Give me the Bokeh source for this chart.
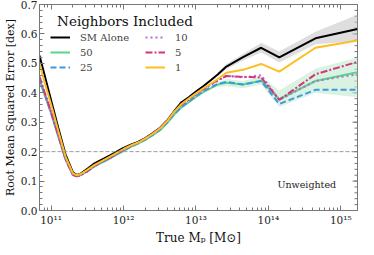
import numpy as np
from bokeh.plotting import figure
from bokeh.models import (FixedTicker, LinearAxis, Range1d, Span, Label, Legend,
                          LegendItem, PrintfTickFormatter, CustomLabelingPolicy)
from bokeh.embed import file_html
from bokeh.resources import INLINE

# log10 of true halo mass
log_mass = [10.84, 10.9, 11.0, 11.1, 11.2, 11.3, 11.35, 11.4, 11.5, 11.6, 11.7, 11.8,
            11.9, 12.0, 12.1, 12.2, 12.3, 12.4, 12.5, 12.6, 12.7, 12.8, 12.9, 13.0,
            13.1, 13.2, 13.3, 13.42, 13.65, 13.9, 14.15, 14.65, 15.23]

rmse_sm_alone = [0.527, 0.47, 0.375, 0.28, 0.19, 0.13, 0.121, 0.124, 0.142, 0.160, 0.173, 0.186,
                 0.199, 0.213, 0.224, 0.233, 0.246, 0.262, 0.28, 0.305, 0.338, 0.368, 0.385, 0.404,
                 0.422, 0.442, 0.462, 0.489, 0.521, 0.553, 0.52, 0.585, 0.617]
rmse_50 = [0.44, 0.40, 0.33, 0.252, 0.173, 0.121, 0.117, 0.12, 0.133, 0.15, 0.163, 0.175,
           0.189, 0.203, 0.216, 0.227, 0.24, 0.255, 0.272, 0.296, 0.326, 0.35, 0.368, 0.386,
           0.402, 0.415, 0.428, 0.434, 0.428, 0.441, 0.378, 0.44, 0.47]
rmse_25 = [0.45, 0.405, 0.332, 0.253, 0.174, 0.121, 0.117, 0.12, 0.133, 0.151, 0.164, 0.176,
           0.19, 0.204, 0.217, 0.228, 0.241, 0.257, 0.274, 0.298, 0.328, 0.352, 0.37, 0.388,
           0.405, 0.418, 0.43, 0.437, 0.428, 0.44, 0.362, 0.41, 0.41]
rmse_10 = [0.445, 0.405, 0.333, 0.254, 0.174, 0.121, 0.116, 0.119, 0.133, 0.151, 0.165, 0.177,
           0.191, 0.206, 0.219, 0.23, 0.244, 0.261, 0.279, 0.304, 0.334, 0.358, 0.376, 0.394,
           0.41, 0.426, 0.44, 0.458, 0.452, 0.46, 0.376, 0.44, 0.463]
rmse_5 = [0.455, 0.41, 0.335, 0.255, 0.175, 0.122, 0.116, 0.119, 0.134, 0.152, 0.166, 0.178,
          0.192, 0.207, 0.22, 0.231, 0.245, 0.262, 0.28, 0.306, 0.336, 0.36, 0.378, 0.396,
          0.412, 0.428, 0.443, 0.457, 0.454, 0.452, 0.376, 0.463, 0.505]
rmse_1 = [0.50, 0.445, 0.36, 0.27, 0.183, 0.127, 0.12, 0.123, 0.138, 0.155, 0.168, 0.181,
          0.195, 0.209, 0.221, 0.231, 0.244, 0.26, 0.278, 0.303, 0.335, 0.362, 0.38, 0.398,
          0.415, 0.43, 0.447, 0.468, 0.478, 0.498, 0.472, 0.553, 0.578]

# uncertainty bands (high-mass end)
band_log_mass = [13.3, 13.42, 13.65, 13.9, 14.15, 14.65, 15.23]
sm_alone_lo = [0.455, 0.48, 0.51, 0.537, 0.503, 0.565, 0.575]
sm_alone_hi = [0.468, 0.498, 0.532, 0.57, 0.54, 0.607, 0.665]
n50_lo = [0.42, 0.422, 0.415, 0.428, 0.352, 0.40, 0.385]
n50_hi = [0.436, 0.447, 0.44, 0.455, 0.408, 0.482, 0.52]

series_labels = ["SM Alone", "50", "25", "10", "5", "1"]
legend_title = "Neighbors Included"
x_major = [11, 12, 13, 14, 15]
x_major_labels = ["10\u00b9\u00b9", "10\u00b9\u00b2", "10\u00b9\u00b3", "10\u00b9\u2074", "10\u00b9\u2075"]
y_major = [0.0, 0.1, 0.2, 0.3, 0.4, 0.5, 0.6, 0.7]

FONT = "DejaVu Serif"
AX = "#777777"
X_LO, X_HI = 10.84, 15.23
x_minor = [float(np.log10(k * 10.0 ** n)) for n in range(10, 16) for k in range(2, 10)]
y_minor = [round(i * 0.02, 2) for i in range(0, 36)]

p = figure(width=358, height=247, output_backend="svg", toolbar_location=None,
           x_range=Range1d(X_LO, X_HI), y_range=Range1d(0, 0.7),
           min_border_left=0, min_border_right=1, min_border_top=1, min_border_bottom=0)
p.xgrid.visible = False
p.ygrid.visible = False
p.outline_line_color = AX
p.background_fill_color = "white"

xt = FixedTicker(ticks=x_major, minor_ticks=x_minor)
yt = FixedTicker(ticks=y_major, minor_ticks=y_minor)
no_labels = CustomLabelingPolicy(code="return new Set()")


def style_axis(ax, show_labels):
    ax.major_tick_in = 5
    ax.major_tick_out = 0
    ax.minor_tick_in = 3
    ax.minor_tick_out = 0
    ax.axis_line_color = AX
    ax.major_tick_line_color = AX
    ax.minor_tick_line_color = AX
    ax.major_label_text_font = FONT
    ax.major_label_text_color = "#222222"
    ax.axis_label_text_font = FONT
    ax.axis_label_text_font_style = "normal"
    ax.axis_label_text_color = "#111111"
    if not show_labels:
        ax.major_label_policy = no_labels
        ax.major_label_text_font_size = "1px"
        ax.major_label_standoff = 0


xa = p.xaxis[0]
xa.ticker = xt
xa.major_label_overrides = {t: l for t, l in zip(x_major, x_major_labels)}
style_axis(xa, True)
xa.major_label_text_font_size = "10.5px"
xa.major_label_standoff = 3
xa.axis_label = "True M\u209a [M\u2299]"
xa.axis_label_text_font_size = "12px"
xa.axis_label_standoff = 2

ya = p.yaxis[0]
ya.ticker = yt
ya.formatter = PrintfTickFormatter(format="%.1f")
style_axis(ya, True)
ya.major_label_text_font_size = "10.5px"
ya.major_label_standoff = 2
ya.axis_label = "Root Mean Squared Error [dex]"
ya.axis_label_text_font_size = "11px"
ya.axis_label_standoff = 1

top = LinearAxis(ticker=xt)
style_axis(top, False)
p.add_layout(top, "above")

# inward ticks along the right frame edge
p.ray(x=[X_HI] * len(y_major), y=y_major, length=5, length_units="screen",
      angle=np.pi, line_color=AX, line_width=1)
p.ray(x=[X_HI] * len(y_minor), y=y_minor, length=3, length_units="screen",
      angle=np.pi, line_color=AX, line_width=1)

p.varea(x=band_log_mass, y1=sm_alone_lo, y2=sm_alone_hi, fill_color="#c8c8c8", fill_alpha=0.6)
p.varea(x=band_log_mass, y1=n50_lo, y2=n50_hi, fill_color="#bfe9cf", fill_alpha=0.6)

p.add_layout(Span(location=0.2, dimension="width", line_color="#999999",
                  line_dash="4 2", line_width=1))

styles = [
    (rmse_sm_alone, "#000000", "solid"),
    (rmse_50, "#55d68b", "solid"),
    (rmse_25, "#3a9ae0", "6 3"),
    (rmse_10, "#b56fd8", "2 3"),
    (rmse_5, "#d4367a", "7 2 2 2"),
    (rmse_1, "#fcbf22", "solid"),
]
items = []
for (vals, col, dash), lab in zip(styles, series_labels):
    r = p.line(log_mass, vals, line_color=col, line_width=2, line_dash=dash)
    items.append(LegendItem(label=lab, renderers=[r]))

legend = Legend(items=items, ncols=2, location=(11, 137))
legend.label_text_font = FONT
legend.label_text_font_size = "10px"
legend.glyph_width = 20
legend.glyph_height = 12
legend.label_height = 12
legend.label_width = 62
legend.label_standoff = 10
legend.spacing = 3
legend.padding = 0
legend.margin = 0
legend.border_line_color = None
legend.background_fill_alpha = 0
p.add_layout(legend)

p.add_layout(Label(x=12.02, y=0.645, text=legend_title, text_font=FONT, text_font_size="13.5px",
                   text_align="center", text_baseline="middle", text_color="#111111"))

p.add_layout(Label(x=14.53, y=0.09, text="Unweighted", text_font=FONT, text_font_size="9.5px",
                   text_align="center", text_baseline="middle", text_color="#222222"))

open("out.html", "w").write(file_html(p, INLINE))
